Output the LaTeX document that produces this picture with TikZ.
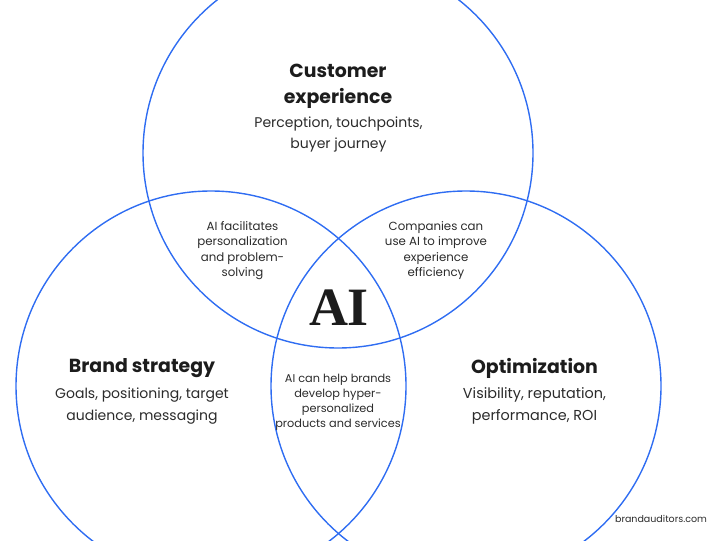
\documentclass[tikz,border=0pt]{standalone}
\usepackage{fontspec}
\setmainfont{Poppins}
\newfontfamily\serifai{Liberation Serif}
\definecolor{ring}{HTML}{2F6DF2}
\definecolor{ink}{HTML}{1C1C1C}
\definecolor{body}{HTML}{2B2B2B}
\tikzset{
  x=1pt,y=-1pt,
  ring/.style={draw=ring,line width=1.4pt},
  heading/.style={align=center,text=ink,inner sep=0pt,font=\fontsize{18.9}{26}\selectfont\bfseries},
  bodytext/.style={align=center,text=body,inner sep=0pt,font=\fontsize{14}{21.5}\selectfont},
  bodywide/.style={bodytext,font=\fontsize{14.4}{21.5}\selectfont},
  small/.style={align=center,text=body,inner sep=0pt,font=\fontsize{11.8}{15.6}\selectfont},
  smallnarrow/.style={small,font=\fontsize{11.3}{15}\selectfont},
}
\begin{document}
\begin{tikzpicture}
\useasboundingbox (0,0) rectangle (711,540);
\begin{scope}
\clip (0,0) rectangle (711,540);
\node[ring,circle,minimum size=390pt,inner sep=0pt] (top) at (338,153) {};
\node[ring,circle,minimum size=390pt,inner sep=0pt] (left) at (211,386) {};
\node[ring,circle,minimum size=390pt,inner sep=0pt] (right) at (466,386) {};
\end{scope}
\node[heading] (h1) at (338,86) {Customer\\experience};
\node[bodytext] (b1) at (338.5,134.5) {Perception, touchpoints,\\buyer journey};
\node[heading] (h2) at (142,368) {Brand strategy};
\node[bodytext] (b2) at (142,406) {Goals, positioning, target\\audience, messaging};
\node[heading] (h3) at (534.5,368) {Optimization};
\node[bodywide] (b3) at (534.5,406) {Visibility, reputation,\\performance, ROI};
\node[small] (s1) at (242.5,250.5) {AI facilitates\\personalization\\and problem-\\solving};
\node[small] (s2) at (436,250.5) {Companies can\\use AI to improve\\experience\\efficiency};
\node[smallnarrow] (s3) at (338,402) {AI can help brands\\develop hyper-\\personalized\\products and services};
\node[text=ink,inner sep=0pt,font=\serifai\fontsize{54}{54}\selectfont\bfseries] (ai) at (339,308) {AI};
\node[text=body,inner sep=0pt,font=\fontsize{9.5}{12}\selectfont] (w) at (661,519) {brandauditors.com};
\end{tikzpicture}
\end{document}
